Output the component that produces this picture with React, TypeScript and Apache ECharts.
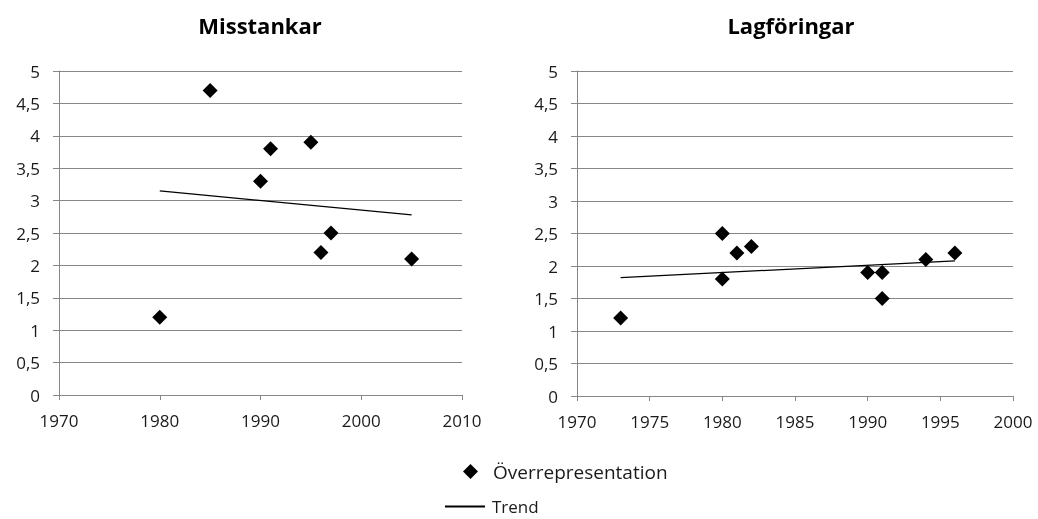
import React, { useEffect, useRef } from "react";
import * as echarts from "echarts";

const titles = ["Misstankar", "Lagföringar"];
const misstankarYears = [1980, 1985, 1990, 1991, 1995, 1996, 1997, 2005];
const misstankarValues = [1.2, 4.7, 3.3, 3.8, 3.9, 2.2, 2.5, 2.1];
const misstankarTrendYears = [1980, 2005];
const misstankarTrendValues = [3.15, 2.78];

const lagforingarYears = [1973, 1980, 1980, 1981, 1982, 1990, 1991, 1991, 1994, 1996];
const lagforingarValues = [1.2, 2.5, 1.8, 2.2, 2.3, 1.9, 1.9, 1.5, 2.1, 2.2];
const lagforingarTrendYears = [1973, 1996];
const lagforingarTrendValues = [1.82, 2.08];

const seriesNames = ["Överrepresentation", "Trend"];

const zip = (a: number[], b: number[]) => a.map((v, i) => [v, b[i]]);
const fmt = (v: number) => String(v).replace(".", ",");

export default function App() {
  const ref = useRef<HTMLDivElement>(null);
  useEffect(() => {
    if (!ref.current) return;
    const chart = echarts.init(ref.current, null, { renderer: "svg" });
    const font = "'Open Sans', 'Liberation Sans', sans-serif";
    const axisLabel = { color: "#1a1a1a", fontSize: 17, fontFamily: font };
    const gray = "#878787";
    const yAxis = (gi: number) => ({
      type: "value",
      gridIndex: gi,
      min: 0,
      max: 5,
      interval: 0.5,
      axisLine: { show: true, lineStyle: { color: gray } },
      axisTick: { show: true, length: 6, lineStyle: { color: gray } },
      splitLine: { show: true, lineStyle: { color: gray, width: 1 } },
      axisLabel: { ...axisLabel, formatter: fmt, margin: 19 },
    });
    const xAxis = (gi: number, min: number, max: number, interval: number) => ({
      type: "value",
      gridIndex: gi,
      min,
      max,
      interval,
      axisLine: { show: true, onZero: false, lineStyle: { color: gray } },
      axisTick: { show: true, length: 5, lineStyle: { color: gray } },
      splitLine: { show: false },
      axisLabel: { ...axisLabel, margin: 17, formatter: (v: number) => String(v) },
    });
    const scatter = (gi: number, data: number[][]) => ({
      name: seriesNames[0],
      type: "scatter",
      xAxisIndex: gi,
      yAxisIndex: gi,
      symbol: "diamond",
      symbolSize: 15,
      itemStyle: { color: "#000", opacity: 1 },
      data,
    });
    const trend = (gi: number, data: number[][]) => ({
      name: seriesNames[1],
      type: "line",
      xAxisIndex: gi,
      yAxisIndex: gi,
      symbol: "none",
      itemStyle: { color: "#000" },
      lineStyle: { color: "#000", width: 1.3 },
      data,
    });
    const titleStyle = { fontFamily: font, fontSize: 22, fontWeight: "bold", color: "#000" };
    chart.setOption({
      animation: false,
      title: [
        { text: titles[0], left: 260, top: 14, padding: 0, textAlign: "center", textStyle: titleStyle },
        { text: titles[1], left: 791, top: 14, padding: 0, textAlign: "center", textStyle: titleStyle },
      ],
      legend: [
        {
          data: [{ name: seriesNames[0], icon: "diamond" }],
          left: 463,
          top: 462,
          padding: 0,
          itemWidth: 15,
          itemHeight: 15,
          itemGap: 10,
          textStyle: { fontFamily: font, fontSize: 19, color: "#1a1a1a", padding: [0, 0, 0, 10], lineHeight: 19 },
        },
        {
          data: [{ name: seriesNames[1], icon: "path://M0,0L1,0L1,0.05L0,0.05Z" }],
          left: 445,
          top: 498,
          padding: 0,
          itemWidth: 42,
          itemHeight: 2,
          itemGap: 6,
          itemStyle: { color: "#000" },
          textStyle: { fontFamily: font, fontSize: 17, color: "#1a1a1a", padding: [0, 0, 0, 1], lineHeight: 17 },
        },
      ],
      grid: [
        { left: 59, top: 71, width: 403, height: 324 },
        { left: 577, top: 71, width: 436, height: 325 },
      ],
      xAxis: [xAxis(0, 1970, 2010, 10), xAxis(1, 1970, 2000, 5)],
      yAxis: [yAxis(0), yAxis(1)],
      series: [
        scatter(0, zip(misstankarYears, misstankarValues)),
        trend(0, zip(misstankarTrendYears, misstankarTrendValues)),
        scatter(1, zip(lagforingarYears, lagforingarValues)),
        trend(1, zip(lagforingarTrendYears, lagforingarTrendValues)),
      ],
    });
    return () => chart.dispose();
  }, []);
  return <div ref={ref} style={{ position: "fixed", left: 0, top: 0, width: 1038, height: 519 }} />;
}
